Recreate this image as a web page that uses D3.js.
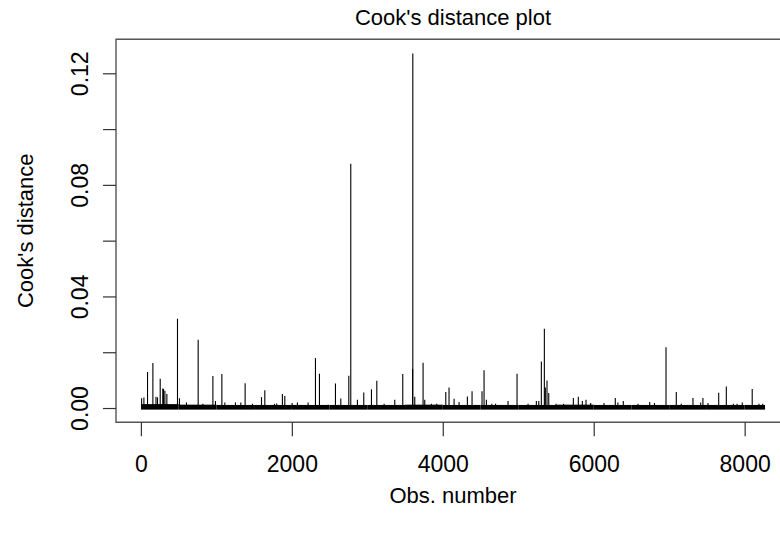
<!DOCTYPE html>
<html><head><meta charset="utf-8">
<script src="https://cdn.jsdelivr.net/npm/d3@7"></script>
<style>
html,body{margin:0;padding:0;background:#fff;}
svg{display:block;font-family:"Liberation Sans",Arial,Helvetica,sans-serif;}
</style></head>
<body>
<svg id="chart" width="780" height="533"></svg>
<script>
// ---- data ----
const nObs = 8270;
const spikeObs = [10,40,88,159,200,220,256,290,300,318,344,485,511,604,759,821,954,988,1073,1112,1253,1324,1381,1478,
  1598,1642,1770,1800,1875,1907,2004,2074,2216,2313,2366,2481,2578,2649,2755,2781,2869,2953,3055,3126,3223,3364,
  3470,3600,3603,3629,3739,3761,3850,3920,4040,4083,4150,4216,4326,4388,4520,4547,4578,4650,4700,4865,4984,5130,
  5240,5272,5306,5346,5359,5381,5404,5500,5600,5730,5796,5849,5898,5960,6136,6286,6320,6392,6587,6742,6805,6958,
  7094,7160,7315,7417,7447,7514,7656,7757,7850,7900,7968,8100,8190,8240];
const spikeVal = [0.0035,0.0038,0.0129,0.0161,0.0040,0.0038,0.0105,0.0070,0.0068,0.0062,0.0050,0.0320,0.0035,0.0020,0.0245,0.0015,0.0115,0.0025,0.0122,0.0020,0.0020,0.0020,0.0089,0.0015,
  0.0039,0.0064,0.0015,0.0016,0.0050,0.0043,0.0018,0.0020,0.0020,0.0179,0.0123,0.0012,0.0088,0.0034,0.0116,0.0876,0.0030,0.0056,0.0067,0.0098,0.0015,0.0030,
  0.0122,0.0140,0.1271,0.0040,0.0162,0.0030,0.0015,0.0015,0.0057,0.0074,0.0033,0.0022,0.0041,0.0060,0.0060,0.0135,0.0030,0.0015,0.0015,0.0025,0.0123,0.0015,
  0.0025,0.0025,0.0167,0.0284,0.0074,0.0099,0.0054,0.0015,0.0015,0.0036,0.0040,0.0025,0.0030,0.0018,0.0018,0.0036,0.0020,0.0025,0.0015,0.0022,0.0018,0.0218,
  0.0057,0.0015,0.0036,0.0020,0.0036,0.0018,0.0055,0.0077,0.0015,0.0015,0.0020,0.0068,0.0015,0.0015];
// dense low-level band of small distances, per block of observations
const floorStart = [1,500,1000,1500,2000,2500,3000,3500,4000,4500,5000,5500,6000,6500,7000,7500,8000];
const floorEnd   = [500,1000,1500,2000,2500,3000,3500,4000,4500,5000,5500,6000,6500,7000,7500,8000,8270];
const floorVal   = [0.0014,0.0012,0.0011,0.0011,0.0011,0.0011,0.0011,0.0012,0.0011,0.0011,0.0011,0.0012,0.0011,0.0011,0.0011,0.0011,0.0011];
const xTicks = [0,2000,4000,6000,8000];
const yTicks = [0,0.02,0.04,0.06,0.08,0.10,0.12];
const yTickLabels = ["0.00","","0.04","","0.08","","0.12"];
const titleText = "Cook's distance plot";
const xLabel = "Obs. number";
const yLabel = "Cook's distance";

// ---- layout ----
const svg = d3.select("#chart");
const L = 116, R = 790, T = 39.3, B = 422.2;
const FS = 23;
const yMax = d3.max(spikeVal);
const x = d3.scaleLinear().domain([1 - 0.04*(nObs-1), nObs + 0.04*(nObs-1)]).range([L, R]);
const y = d3.scaleLinear().domain([-0.04*yMax, 1.04*yMax]).range([B, T]);

// floor band
svg.append("g").selectAll("rect").data(floorStart).join("rect")
  .attr("x", (d,i) => x(d))
  .attr("width", (d,i) => x(floorEnd[i]) - x(d))
  .attr("y", (d,i) => y(floorVal[i]))
  .attr("height", (d,i) => y(0) - y(floorVal[i]) + 1.6)
  .attr("fill", "#000");

// spikes (type = "h")
svg.append("g").selectAll("line").data(spikeObs).join("line")
  .attr("x1", d => x(d)).attr("x2", d => x(d))
  .attr("y1", y(0)).attr("y2", (d,i) => y(spikeVal[i]))
  .attr("stroke", "#000").attr("stroke-width", 1.1);

// box
svg.append("path")
  .attr("d", `M${L},${T}H${R}V${B}H${L}Z`)
  .attr("fill", "none").attr("stroke", "#555").attr("stroke-width", 1.4);

// x axis
const xa = svg.append("g").attr("transform", `translate(0,${B})`)
  .call(d3.axisBottom(x).tickValues(xTicks).tickSize(14).tickSizeOuter(0).tickPadding(19).tickFormat(d3.format("d")));
xa.select(".domain").remove();
xa.selectAll(".tick line").attr("stroke", "#333").attr("stroke-width", 1.2);
xa.selectAll("text").attr("font-size", FS).attr("fill", "#000").attr("font-family", "Liberation Sans, Arial, sans-serif");

// y axis
const ya = svg.append("g").attr("transform", `translate(${L},0)`)
  .call(d3.axisLeft(y).tickValues(yTicks).tickSize(13).tickSizeOuter(0).tickFormat((d,i) => yTickLabels[i]));
ya.select(".domain").remove();
ya.selectAll(".tick line").attr("stroke", "#333").attr("stroke-width", 1.2);
ya.selectAll(".tick text")
  .attr("x", 0).attr("dy", 0)
  .attr("transform", `translate(${-27.7},0) rotate(-90)`)
  .attr("text-anchor", "middle")
  .attr("font-size", FS).attr("fill", "#000").attr("font-family", "Liberation Sans, Arial, sans-serif");

// labels
const cx = (L + R) / 2;
svg.append("text").attr("x", cx).attr("y", 25).attr("text-anchor", "middle")
  .attr("font-size", FS - 1).text(titleText);
svg.append("text").attr("x", cx).attr("y", 503).attr("text-anchor", "middle")
  .attr("font-size", FS - 1).text(xLabel);
svg.append("text").attr("transform", `translate(33,${(T + B) / 2}) rotate(-90)`).attr("text-anchor", "middle")
  .attr("font-size", FS - 1).text(yLabel);
</script>
</body></html>
